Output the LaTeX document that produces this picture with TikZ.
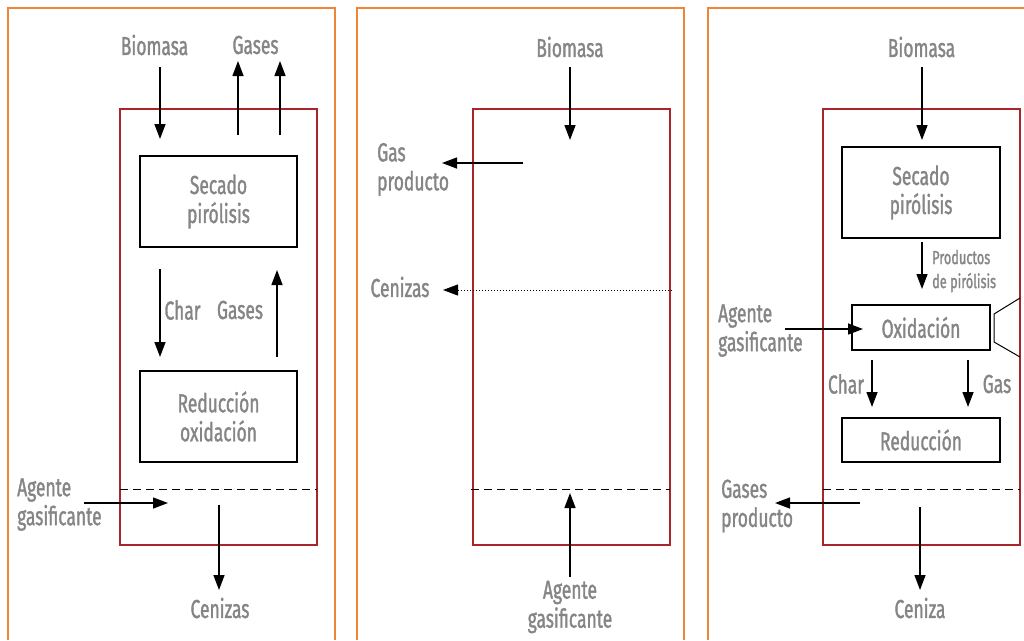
\documentclass[tikz,border=0pt]{standalone}
\usepackage{fontspec}
\setmainfont[FakeStretch=0.67, FakeBold=1.3]{Fira Sans}
\usepackage{tikz}
\usetikzlibrary{arrows.meta,positioning}
\definecolor{FrameOrange}{HTML}{EE8636}
\definecolor{ReactorRed}{HTML}{A8262B}
\definecolor{LabelGray}{HTML}{858585}
\tikzset{
  frame/.style={draw=FrameOrange, line width=1.3pt},
  reactor/.style={draw=ReactorRed, line width=1.3pt, inner sep=0pt, outer sep=0pt},
  stage/.style={draw, line width=1.4pt, inner sep=0pt, outer sep=0pt, align=center,
                text=LabelGray, font=\fontsize{26}{29}\selectfont},
  lbl/.style={text=LabelGray, inner sep=0pt, align=center, font=\fontsize{26}{29}\selectfont},
  small/.style={lbl, align=left, font=\fontsize{19}{24}\selectfont},
  flow/.style={-{Triangle[length=15pt,width=11pt]}, line width=1.4pt},
  grate/.style={dash pattern=on 8pt off 5pt, line width=1pt},
  ashline/.style={-{Triangle[length=15pt,width=11pt]}, dotted, line width=1pt}
}

\begin{document}
\begin{tikzpicture}[x=1pt, y=-1pt]
  \useasboundingbox (0,0) rectangle (1024,640);
  % frames
  \draw[frame] (8,640) -- (8,8) -- (335,8) -- (335,640);
  \draw[frame] (357,640) -- (357,8) -- (684,8) -- (684,640);
  \draw[frame] (708,640) -- (708,8) -- (1030,8);

  % panel 1: updraft
  \node[reactor, minimum width=197pt, minimum height=436pt] (ar) at (218.5,327) {};
  \node[stage, minimum width=157pt, minimum height=91pt] (asec) at (218.5,201.5) {Secado\\pirólisis};
  \node[stage, minimum width=157pt, minimum height=91pt] (ared) at (218.5,416.5) {Reducción\\oxidación};
  \node[lbl] (abio) at (154.5,45) {Biomasa};
  \node[lbl] (agas) at (255.5,45) {Gases};
  \node[lbl] (achar) at (182.5,310) {Char};
  \node[lbl] (agas2) at (240,310) {Gases};
  \node[lbl, align=left, anchor=west] (aage) at (17,504.5) {Agente\\gasificante};
  \node[lbl] (acen) at (220,608) {Cenizas};
  \coordinate (a1) at (160,67);   \coordinate (a2) at (160,139);
  \coordinate (a3) at (238,135);  \coordinate (a4) at (238,61);
  \coordinate (a5) at (280,135);  \coordinate (a6) at (280,61);
  \coordinate (a7) at (160,269);  \coordinate (a8) at (160,357);
  \coordinate (a9) at (277,357);  \coordinate (a10) at (277,270);
  \coordinate (a11) at (84,503);  \coordinate (a12) at (168,503);
  \coordinate (a13) at (219,505); \coordinate (a14) at (219,590);
  \draw[flow] (a1) -- (a2);
  \draw[flow] (a3) -- (a4);
  \draw[flow] (a5) -- (a6);
  \draw[flow] (a7) -- (a8);
  \draw[flow] (a9) -- (a10);
  \draw[flow] (a11) -- (a12);
  \draw[flow] (a13) -- (a14);
  \draw[grate] (ar.west |- 0,489) -- (ar.east |- 0,489);

  % panel 2: fluidized bed
  \node[reactor, minimum width=197pt, minimum height=436pt] (br) at (571.5,327) {};
  \node[lbl] (bbio) at (570,47) {Biomasa};
  \node[lbl, align=left, anchor=west] (bgas) at (377,169.5) {Gas\\producto};
  \node[lbl] (bcen) at (400,287) {Cenizas};
  \node[lbl] (bage) at (570,607) {Agente\\gasificante};
  \coordinate (b1) at (570,67);  \coordinate (b2) at (570,140);
  \coordinate (b3) at (523,163); \coordinate (b4) at (442,163);
  \coordinate (b5) at (672,290); \coordinate (b6) at (443,290);
  \coordinate (b7) at (570,577); \coordinate (b8) at (570,493);
  \draw[flow] (b1) -- (b2);
  \draw[flow] (b3) -- (b4);
  \draw[ashline] (b5) -- (b6);
  \draw[flow] (b7) -- (b8);
  \draw[grate] (471,489) -- (br.east |- 0,489);

  % panel 3: downdraft
  \node[reactor, minimum width=197pt, minimum height=436pt] (cr) at (921.5,327) {};
  \node[stage, minimum width=158pt, minimum height=91pt] (csec) at (921,192.5) {Secado\\pirólisis};
  \node[stage, minimum width=138pt, minimum height=45pt] (coxi) at (921,327.5) {Oxidación};
  \node[stage, minimum width=158pt, minimum height=44pt] (cred) at (921,440) {Reducción};
  \node[lbl] (cbio) at (921.5,47) {Biomasa};
  \node[small, anchor=west] (cpro) at (932,271) {Productos\\de pirólisis};
  \node[lbl, align=left, anchor=west] (cage) at (718,330.5) {Agente\\gasificante};
  \node[lbl] (cchar) at (846,384) {Char};
  \node[lbl] (cgas) at (997,384) {Gas};
  \node[lbl, align=left, anchor=west] (cgpr) at (721,506) {Gases\\producto};
  \node[lbl] (ccen) at (920,608) {Ceniza};
  \coordinate (c1) at (922,67);  \coordinate (c2) at (922,140);
  \coordinate (c3) at (922,242); \coordinate (c4) at (922,289);
  \coordinate (c5) at (785,329); \coordinate (c6) at (863,329);
  \coordinate (c7) at (872,360); \coordinate (c8) at (872,407);
  \coordinate (c9) at (968,360); \coordinate (c10) at (968,407);
  \coordinate (c11) at (860,503); \coordinate (c12) at (775,503);
  \coordinate (c13) at (920,507); \coordinate (c14) at (920,590);
  \draw[flow] (c1) -- (c2);
  \draw[flow] (c3) -- (c4);
  \draw[flow] (c5) -- (c6);
  \draw[flow] (c7) -- (c8);
  \draw[flow] (c9) -- (c10);
  \draw[flow] (c11) -- (c12);
  \draw[flow] (c13) -- (c14);
  \draw[grate] (cr.west |- 0,489) -- (cr.east |- 0,489);
  \draw[line width=1pt] (1020,298) -- (994,314) -- (994,342) -- (1020,357);
\end{tikzpicture}
\end{document}
